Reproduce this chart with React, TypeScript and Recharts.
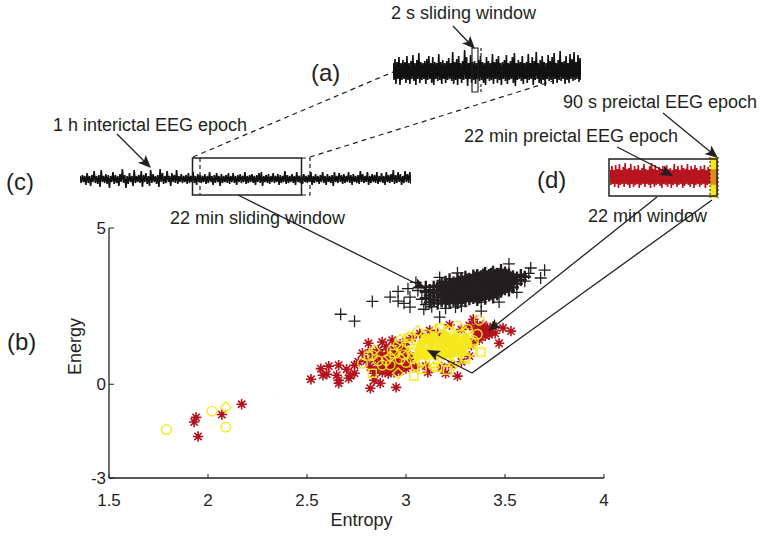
import { ScatterChart, Scatter, XAxis, YAxis, LineChart, Line } from 'recharts'

const FONT = '"Liberation Sans", Arial, sans-serif'
const INK = '#231f20'
const RED = '#b5121b'
const YELLOW = '#f7e81e'

const xTicks = [1.5, 2, 2.5, 3, 3.5, 4]
const yTicks = [-3, 0, 5]

const blackOutliers = [
  [2.67, 2.24], [2.74, 2.02], [2.83, 2.65], [2.92, 2.79], [2.96, 2.97], [2.96, 2.66], [3.01, 3.06], [3.02, 2.79],
  [2.99, 2.59], [3.02, 2.47], [3.05, 3.26], [3.09, 2.4], [3.17, 2.15], [3.38, 2.34], [3.17, 3.42], [3.26, 3.56],
  [3.52, 3.85], [3.63, 3.72], [3.68, 3.4], [3.7, 3.65], [3.56, 2.94], [3.47, 2.63], [3.38, 2.63], [3.2, 2.43],
  [3.25, 2.47], [3.06, 3.0], [3.08, 2.72], [3.1, 2.55], [3.13, 2.48], [3.28, 2.5], [3.6, 3.3], [3.62, 3.55],
]
const blackCore = [
  [3.1, 2.75], [3.1, 2.95], [3.1, 3.12], [3.12, 2.62], [3.12, 2.84], [3.12, 3.02], [3.14, 2.7], [3.14, 2.93],
  [3.14, 3.12], [3.16, 2.58], [3.16, 2.78], [3.16, 3.0], [3.16, 3.15], [3.18, 2.66], [3.18, 2.87], [3.18, 3.08],
  [3.18, 3.22], [3.2, 2.6], [3.2, 2.76], [3.2, 2.95], [3.2, 3.14], [3.2, 3.28], [3.22, 2.64], [3.22, 2.83],
  [3.22, 3.03], [3.22, 3.2], [3.22, 3.36], [3.24, 2.68], [3.24, 2.9], [3.24, 3.1], [3.24, 3.26], [3.26, 2.6],
  [3.26, 2.74], [3.26, 2.96], [3.26, 3.16], [3.26, 3.35], [3.28, 2.7], [3.28, 2.86], [3.28, 3.04], [3.28, 3.22],
  [3.28, 3.4], [3.3, 2.66], [3.3, 2.8], [3.3, 2.98], [3.3, 3.14], [3.3, 3.3], [3.3, 3.44], [3.32, 2.72],
  [3.32, 2.9], [3.32, 3.07], [3.32, 3.24], [3.32, 3.38], [3.34, 2.76], [3.34, 2.95], [3.34, 3.12], [3.34, 3.3],
  [3.34, 3.48], [3.36, 2.7], [3.36, 2.86], [3.36, 3.02], [3.36, 3.2], [3.36, 3.36], [3.36, 3.5], [3.38, 2.8],
  [3.38, 2.96], [3.38, 3.13], [3.38, 3.28], [3.38, 3.46], [3.4, 2.74], [3.4, 2.9], [3.4, 3.06], [3.4, 3.22],
  [3.4, 3.4], [3.4, 3.56], [3.42, 2.84], [3.42, 3.0], [3.42, 3.16], [3.42, 3.32], [3.42, 3.5], [3.44, 2.78],
  [3.44, 2.94], [3.44, 3.1], [3.44, 3.26], [3.44, 3.44], [3.44, 3.6], [3.46, 2.88], [3.46, 3.04], [3.46, 3.2],
  [3.46, 3.38], [3.46, 3.54], [3.48, 2.96], [3.48, 3.12], [3.48, 3.3], [3.48, 3.48], [3.48, 3.66], [3.5, 3.04],
  [3.5, 3.22], [3.5, 3.4], [3.5, 3.58], [3.52, 3.0], [3.52, 3.18], [3.52, 3.36], [3.52, 3.52], [3.54, 3.1],
  [3.54, 3.3], [3.54, 3.46], [3.56, 3.22], [3.56, 3.42], [3.58, 3.34], [3.58, 3.5], [3.6, 3.44],
]
const blackFill = [
  [3.19, 2.82], [3.19, 3.01], [3.21, 2.72], [3.21, 2.9], [3.21, 3.09], [3.23, 2.78], [3.23, 2.98], [3.23, 3.17],
  [3.25, 2.84], [3.25, 3.03], [3.25, 3.21], [3.27, 2.78], [3.27, 2.91], [3.27, 3.1], [3.27, 3.28], [3.29, 2.76],
  [3.29, 2.93], [3.29, 3.09], [3.29, 3.26], [3.31, 2.85], [3.31, 3.02], [3.31, 3.19], [3.31, 3.35], [3.33, 2.82],
  [3.33, 2.99], [3.33, 3.16], [3.33, 3.33], [3.35, 2.81], [3.35, 2.91], [3.35, 3.07], [3.35, 3.25], [3.35, 3.42],
  [3.37, 2.78], [3.37, 2.92], [3.37, 3.09], [3.37, 3.25], [3.37, 3.42], [3.39, 2.86], [3.39, 3.01], [3.39, 3.18],
  [3.39, 3.33], [3.39, 3.51], [3.41, 2.94], [3.41, 3.1], [3.41, 3.27], [3.41, 3.45], [3.43, 2.9], [3.43, 3.06],
  [3.43, 3.22], [3.43, 3.38], [3.43, 3.54], [3.45, 2.98], [3.45, 3.14], [3.45, 3.31], [3.45, 3.49], [3.47, 3.0],
  [3.47, 3.16], [3.47, 3.34], [3.47, 3.52], [3.49, 3.08], [3.49, 3.26], [3.49, 3.44], [3.51, 3.12], [3.51, 3.3],
  [3.51, 3.47], [3.53, 3.24], [3.53, 3.41],
]
const redStars = [
  [1.94, -1.06], [1.93, -1.21], [1.95, -1.67], [2.07, -0.97], [2.17, -0.64], [2.52, 0.16], [2.57, 0.5], [2.61, 0.58],
  [2.66, 0.61], [2.7, 0.48], [2.58, 0.29], [2.6, 0.32], [2.65, 0.29], [2.66, 0.13], [2.66, 0.03], [2.71, 0.19],
  [2.72, 0.27], [2.74, 0.35], [2.74, 0.61], [2.76, 0.72], [2.78, 0.99], [2.81, 1.31], [2.88, 1.35], [2.93, 1.41],
  [2.82, -0.13], [2.95, -0.1], [2.84, 0.13], [2.84, 0.35], [2.87, 0.03], [3.34, 2.08], [3.41, 1.8], [3.49, 1.8],
  [3.53, 1.7], [3.45, 1.63], [3.47, 1.31], [3.26, 0.26], [3.2, 0.35], [3.11, 0.38], [3.44, 1.85], [3.39, 1.9],
  [3.42, 1.68], [3.38, 1.75], [3.36, 1.6], [3.4, 1.55], [3.35, 1.45], [3.33, 1.25], [3.32, 0.9], [3.28, 0.72],
  [3.23, 0.62], [3.18, 0.55], [3.1, 0.58], [3.05, 0.55], [3.0, 0.5], [2.97, 0.42], [2.94, 0.38], [2.91, 0.34],
  [2.88, 0.38], [2.85, 0.45], [2.82, 0.55], [2.8, 0.75], [2.84, 0.8], [2.87, 0.62], [2.9, 0.52], [2.93, 0.56],
  [2.96, 0.66], [2.9, 0.72], [2.93, 0.82], [2.96, 0.92], [2.88, 0.92], [2.91, 1.0], [2.94, 1.12], [2.97, 1.28],
  [3.0, 1.36], [3.03, 1.48], [3.07, 1.62], [3.12, 1.72], [3.16, 1.62], [3.22, 1.9], [3.28, 1.75], [2.99, 0.8],
  [3.02, 0.72], [2.98, 1.04], [2.9, 1.2], [2.86, 1.1], [2.82, 1.02], [3.32, 1.88], [3.37, 1.42],
  [2.86, 0.55], [2.89, 0.62], [2.92, 0.68], [2.95, 0.78], [2.98, 0.6], [2.92, 0.48], [2.95, 0.52], [3.01, 0.62],
  [2.87, 0.78], [2.9, 0.86], [2.93, 0.95], [2.96, 1.05], [2.99, 1.16], [3.0, 1.02], [3.02, 0.9], [2.85, 0.98],
  [3.37, 1.7], [3.4, 1.72], [3.38, 1.6], [3.42, 1.58], [3.35, 1.75], [3.36, 1.88],
]
const yellowCore = [
  [3.06, 0.9], [3.07, 1.12], [3.08, 1.32], [3.1, 0.92], [3.12, 1.1], [3.13, 1.32], [3.14, 1.52], [3.15, 0.92],
  [3.17, 1.14], [3.18, 1.34], [3.19, 0.94], [3.2, 1.56], [3.21, 1.16], [3.22, 1.38], [3.23, 0.98], [3.25, 1.16],
  [3.25, 1.5], [3.27, 1.32], [3.28, 1.02], [3.29, 1.18], [3.3, 1.46], [3.31, 1.3], [3.19, 1.45], [3.1, 1.48],
]
const yellowCircles = [
  [1.79, -1.45], [2.02, -0.86], [2.09, -1.37], [2.78, 0.67], [2.88, 0.61], [2.9, 0.77], [2.83, 0.93], [3.37, 2.05],
  [3.36, 1.6], [3.31, 1.76], [3.26, 1.86], [3.0, 0.7], [2.96, 1.25], [2.93, 1.09], [2.99, 0.94], [3.05, 0.6],
  [3.02, 1.3], [3.25, 0.75], [3.33, 1.05], [3.28, 1.6], [2.86, 0.75], [3.1, 1.6], [3.03, 0.82], [3.04, 1.12],
  [3.14, 0.68], [3.2, 0.72], [3.3, 0.88], [3.34, 1.4], [3.22, 1.68], [3.02, 1.52], [2.97, 0.8], [2.92, 0.62],
]
const yellowDiamonds = [
  [2.09, -0.74], [3.06, 1.7], [2.96, 0.35], [3.21, 1.73], [2.84, 1.09], [2.92, 0.88], [2.97, 1.42], [3.14, 0.55],
  [3.34, 1.3], [3.03, 1.0], [3.24, 0.62], [2.98, 1.12], [3.08, 0.7], [3.15, 1.72], [3.3, 1.66],
]
const yellowSquares = [
  [3.17, 1.8], [3.38, 1.03], [3.21, 0.45], [3.04, 0.26], [2.83, 0.35], [3.16, 0.54], [3.01, 1.47], [2.81, 0.9],
  [3.08, 0.48], [3.3, 0.8], [2.94, 0.98],
]
const faintPoints = [[2.33, -0.45]]

const aPeaks = [8, 12, 9, 14, 8, 11, 9, 15, 8, 10, 16, 8, 11, 18, 9, 8, 10, 12, 15, 8, 14, 9, 8, 17, 9, 11, 8, 10, 13, 8, 19, 9, 12, 15, 8, 10, 21, 14, 8, 16, 9, 10, 8, 11, 15, 9, 8, 14, 10, 8, 17, 9, 12, 15, 8, 9, 11, 16, 8, 10, 14, 18, 8, 11, 9, 15, 8, 9, 17, 8, 14, 10, 19, 8, 11, 15, 9, 8, 16, 10, 14, 18, 8, 11, 20, 9, 10, 15, 8, 17, 12, 19, 9, 16, 13]
const aTroughs = [-9, -13, -8, -14, -9, -8, -12, -9, -13, -8, -10, -14, -8, -12, -9, -8, -13, -9, -8, -12, -14, -8, -10, -9, -13, -8, -12, -9, -8, -10, -13, -9, -14, -8, -12, -9, -8, -15, -8, -12, -9, -13, -8, -10, -9, -12, -14, -8, -10, -9, -13, -8, -12, -9, -14, -8, -10, -13, -9, -8, -12, -15, -9, -8, -10, -13, -8, -12, -9, -8, -14, -9, -8, -12, -13, -9, -15, -8, -10, -9, -13, -8, -12, -9, -10, -8, -13, -9, -12, -8, -10, -9, -8, -11, -9]
const cPeaks = [3, 4, 3, 6, 3, 4, 8, 3, 4, 9, 3, 5, 4, 3, 7, 4, 3, 5, 10, 4, 3, 6, 3, 9, 3, 4, 8, 4, 6, 3, 9, 5, 3, 4, 10, 6, 3, 8, 3, 6, 4, 9, 3, 5, 3, 4, 6, 3, 7, 3, 5, 4, 3, 5, 3, 7, 3, 4, 6, 3, 5, 3, 4, 6, 3, 6, 3, 4, 5, 3, 7, 3, 4, 5, 3, 4, 6, 7, 3, 4, 5, 3, 6, 3, 5, 4, 3, 8, 4, 3, 5, 3, 7, 3, 4, 5, 3, 4, 7, 3, 5, 3, 4, 7, 3, 5, 3, 4, 7, 3, 6, 4, 5, 3, 7, 4, 5, 3, 4, 8, 5, 3, 7, 3, 5, 4, 7, 3, 6, 3, 7, 4, 5, 9, 4, 7, 5, 3, 8, 5, 7]
const cTroughs = [-4, -3, -6, -4, -7, -3, -4, -5, -8, -3, -4, -5, -9, -3, -5, -4, -7, -3, -4, -9, -5, -3, -7, -4, -3, -4, -8, -3, -5, -7, -4, -3, -5, -8, -3, -5, -4, -3, -7, -3, -4, -5, -3, -4, -3, -5, -4, -3, -4, -6, -3, -4, -3, -5, -4, -3, -6, -4, -3, -7, -4, -3, -4, -5, -3, -4, -6, -3, -4, -3, -5, -4, -3, -4, -6, -3, -4, -7, -3, -4, -5, -3, -4, -3, -6, -4, -3, -5, -4, -3, -4, -6, -3, -4, -5, -3, -4, -3, -6, -4, -3, -5, -3, -4, -6, -3, -4, -7, -3, -4, -3, -5, -4, -3, -4, -6, -3, -4, -5, -3, -4, -3, -6, -4, -3, -4, -5, -3, -4, -6, -3, -4, -3, -5, -4, -3, -6, -4, -3, -4, -5]
const dPeaks = [7, 11, 7, 12, 8, 13, 7, 10, 14, 8, 9, 13, 7, 11, 8, 12, 7, 9, 13, 8, 7, 11, 14, 8, 12, 7, 10, 8, 11, 7, 12, 8, 9, 7, 13, 8, 11, 7, 12, 9, 8, 13, 7, 11, 8, 12, 9, 7, 11, 8, 12, 7, 10, 8]
const dTroughs = [-8, -7, -10, -7, -11, -8, -7, -10, -7, -8, -11, -7, -10, -8, -7, -11, -8, -7, -10, -7, -8, -11, -7, -10, -8, -7, -9, -11, -7, -8, -10, -7, -11, -8, -7, -10, -8, -7, -11, -9, -7, -8, -10, -7, -11, -8, -7, -10, -8, -7, -11, -8, -7, -9]
const barPeaks = [7, 8, 7, 8, 7, 8, 7, 8]
const barTroughs = [-7, -8, -7, -8, -7, -8, -7, -8]

const toPoints = (rows: number[][]) => rows.map(([x, y]) => ({ x, y }))
const toTrace = (peaks: number[], troughs: number[]) =>
  peaks.flatMap((p, i) => [{ i: 2 * i, v: p }, { i: 2 * i + 1, v: troughs[i] }])

function PlusMark({ cx, cy, r = 6, w = 1.3 }: any) {
  return (
    <path d={`M${cx - r} ${cy}H${cx + r}M${cx} ${cy - r}V${cy + r}`} stroke={INK} strokeWidth={w} fill="none" />
  )
}
function CorePlus(props: any) {
  return <PlusMark {...props} w={2.4} />
}
function StarMark({ cx, cy }: any) {
  const r = 5.2
  const s = r * 0.707
  return (
    <g stroke={RED} strokeWidth={1.6} fill="none">
      <path d={`M${cx - r} ${cy}H${cx + r}M${cx} ${cy - r}V${cy + r}M${cx - s} ${cy - s}L${cx + s} ${cy + s}M${cx - s} ${cy + s}L${cx + s} ${cy - s}`} />
      <circle cx={cx} cy={cy} r={2.2} fill={RED} stroke="none" />
    </g>
  )
}
function CircleMark({ cx, cy }: any) {
  return <circle cx={cx} cy={cy} r={4.8} fill="none" stroke={YELLOW} strokeWidth={1.4} />
}
function CoreMark({ cx, cy }: any) {
  return <circle cx={cx} cy={cy} r={4.6} fill={YELLOW} stroke={YELLOW} strokeWidth={1} />
}
function DiamondMark({ cx, cy }: any) {
  const r = 5.4
  return <path d={`M${cx} ${cy - r}L${cx + r} ${cy}L${cx} ${cy + r}L${cx - r} ${cy}Z`} fill="none" stroke={YELLOW} strokeWidth={1.4} />
}
function SquareMark({ cx, cy }: any) {
  return <rect x={cx - 4} y={cy - 4} width={8} height={8} fill="none" stroke={YELLOW} strokeWidth={1.4} />
}
function FaintMark({ cx, cy }: any) {
  return <circle cx={cx} cy={cy} r={0.8} fill="#faf3a0" />
}

function Trace({ left, top, width, height, peaks, troughs, color, range }: any) {
  return (
    <div style={{ position: 'absolute', left, top }}>
      <LineChart width={width} height={height} data={toTrace(peaks, troughs)} margin={{ top: 0, right: 0, bottom: 0, left: 0 }}>
        <XAxis hide dataKey="i" type="number" domain={['dataMin', 'dataMax']} />
        <YAxis hide domain={[-range, range]} />
        <Line dataKey="v" stroke={color} strokeWidth={1.6} strokeLinejoin="bevel" dot={false} isAnimationActive={false} />
      </LineChart>
    </div>
  )
}

function Label({ x, y, size = 18, children }: any) {
  return (
    <text x={x} y={y} fontSize={size} fill={INK} fontFamily={FONT}>
      {children}
    </text>
  )
}

function Arrow({ d, tip, angle }: any) {
  return (
    <g>
      <path d={d} stroke={INK} strokeWidth={1.3} fill="none" />
      <path d="M0 0L-13 -5.5L-10 0L-13 5.5Z" fill={INK} transform={`translate(${tip[0]} ${tip[1]}) rotate(${angle})`} />
    </g>
  )
}

function Annotations() {
  return (
    <svg width={762} height={537} style={{ position: 'absolute', left: 0, top: 0, pointerEvents: 'none' }}>
      <g stroke={INK} fill="none" strokeWidth={1.2}>
        <path d="M193 157L393 72M310 157L553 81" strokeDasharray="5 4" />
        <rect x={192.5} y={158} width={109} height={37} strokeWidth={1.5} />
        <path d="M200 158V195M302 158H310V195H302" strokeDasharray="4 3" />
        <path d="M472 48H478V92H472Z" />
        <path d="M481 48V56M481 84V92" strokeDasharray="3 2" />
        <rect x={609} y={159} width={108} height={37} strokeWidth={1.5} />
        <path d="M710 157V198M718 157V198" strokeDasharray="2 2" strokeWidth={1} />
        <path d="M712 200L472 373" strokeWidth={1.3} />
      </g>
      <Arrow d="M453 26L472 46" tip={[475, 49]} angle={47} />
      <Arrow d="M117 134L148 165" tip={[151, 168]} angle={45} />
      <Arrow d="M663 113L713 154" tip={[718, 158]} angle={39} />
      <Arrow d="M617 147L668 173" tip={[673, 176]} angle={27} />
      <Arrow d="M238 195L423 287" tip={[426, 289]} angle={27} />
      <Arrow d="M657 197L491 329" tip={[488, 331]} angle={142} />
      <Arrow d="M472 373L431 352" tip={[427, 350]} angle={207} />
      <Label x={391} y={19}>2 s sliding window</Label>
      <Label x={311} y={81} size={24}>(a)</Label>
      <Label x={563} y={108}>90 s preictal EEG epoch</Label>
      <Label x={464} y={142}>22 min preictal EEG epoch</Label>
      <Label x={53} y={131}>1 h interictal EEG epoch</Label>
      <Label x={170} y={224}>22 min sliding window</Label>
      <Label x={588} y={222}>22 min window</Label>
      <Label x={6} y={190} size={24}>(c)</Label>
      <Label x={537} y={188} size={24}>(d)</Label>
      <Label x={7} y={350} size={24}>(b)</Label>
    </svg>
  )
}

const axisTick = { fontSize: 17, fill: INK, fontFamily: FONT }
const axisLine = { stroke: INK, strokeWidth: 1.3 }

export default function App() {
  return (
    <div style={{ position: 'absolute', left: 0, top: 0, width: 762, height: 537, background: '#fff', overflow: 'hidden' }}>
      <ScatterChart width={762} height={537} margin={{ top: 228, right: 158, bottom: 29, left: 49 }}>
        <XAxis
          type="number"
          dataKey="x"
          domain={[1.5, 4]}
          ticks={xTicks}
          height={30}
          tickSize={-4}
          tickMargin={20}
          tick={axisTick}
          axisLine={axisLine}
          tickLine={{ stroke: INK }}
          label={{ value: 'Entropy', position: 'insideBottom', offset: -18, dx: 5, fontSize: 18, fill: INK, fontFamily: FONT }}
        />
        <YAxis
          type="number"
          dataKey="y"
          domain={[-3, 5]}
          ticks={yTicks}
          width={60}
          tickSize={-5}
          tickMargin={8}
          tick={axisTick}
          axisLine={axisLine}
          tickLine={{ stroke: INK }}
          label={{ value: 'Energy', angle: -90, position: 'insideLeft', offset: 26, fontSize: 18, fill: INK, fontFamily: FONT, dy: 22 }}
        />
        <Scatter data={toPoints(blackCore)} shape={<CorePlus />} isAnimationActive={false} />
        <Scatter data={toPoints(blackFill)} shape={<CorePlus />} isAnimationActive={false} />
        <Scatter data={toPoints(blackOutliers)} shape={<PlusMark />} isAnimationActive={false} />
        <Scatter data={toPoints(redStars)} shape={<StarMark />} isAnimationActive={false} />
        <Scatter data={toPoints(yellowCore)} shape={<CoreMark />} isAnimationActive={false} />
        <Scatter data={toPoints(yellowCircles)} shape={<CircleMark />} isAnimationActive={false} />
        <Scatter data={toPoints(yellowDiamonds)} shape={<DiamondMark />} isAnimationActive={false} />
        <Scatter data={toPoints(yellowSquares)} shape={<SquareMark />} isAnimationActive={false} />
        <Scatter data={toPoints(faintPoints)} shape={<FaintMark />} isAnimationActive={false} />
      </ScatterChart>
      <Trace left={393} top={46} width={188} height={50} peaks={aPeaks} troughs={aTroughs} color="#111" range={25} />
      <Trace left={80} top={164} width={331} height={30} peaks={cPeaks} troughs={cTroughs} color="#111" range={15} />
      <Trace left={610} top={157} width={101} height={40} peaks={dPeaks} troughs={dTroughs} color="#b8141f" range={20} />
      <div style={{ position: 'absolute', left: 710, top: 157, width: 8, height: 41, background: YELLOW }} />
      <Trace left={710} top={157} width={8} height={40} peaks={barPeaks} troughs={barTroughs} color="#e08a1a" range={20} />
      <Annotations />
    </div>
  )
}
